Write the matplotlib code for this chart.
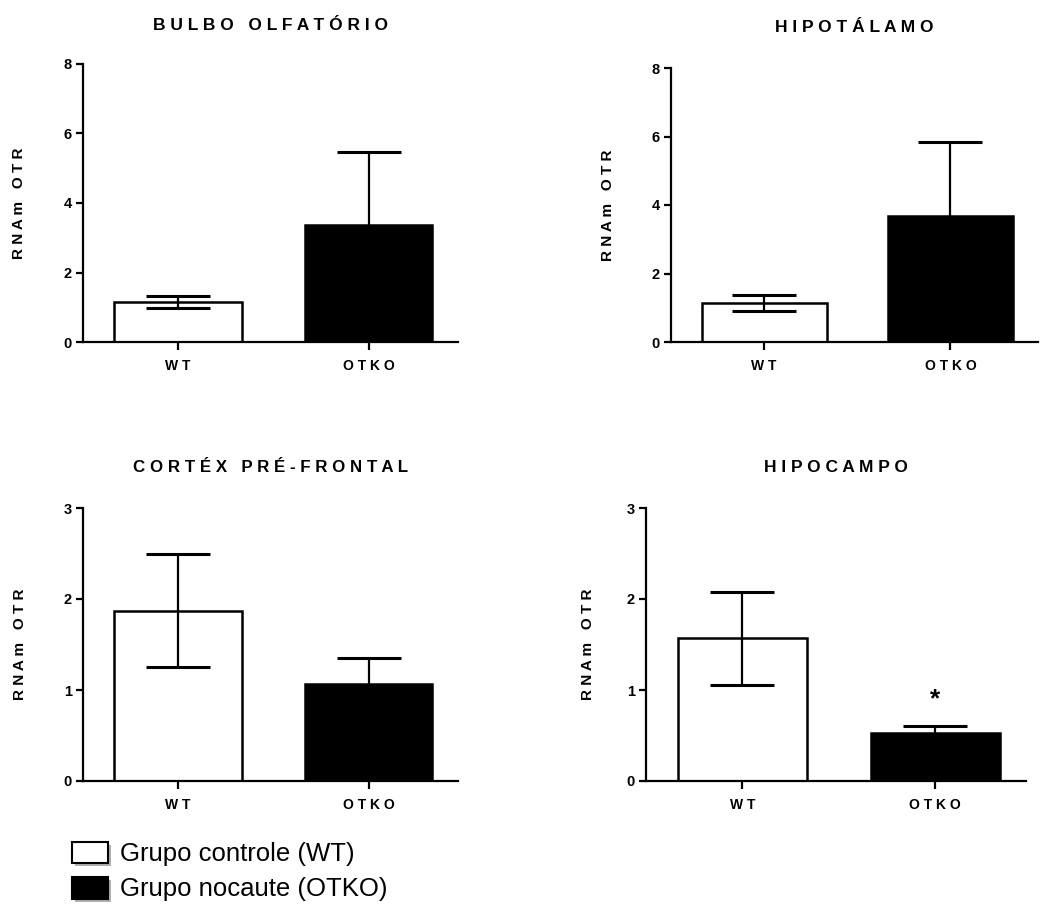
import matplotlib
matplotlib.use("Agg")
import matplotlib.pyplot as plt
from matplotlib.patches import Rectangle

plt.rcParams['font.family'] = ['Liberation Sans', 'DejaVu Sans']

categories = ["WT", "OTKO"]
titles = ["BULBO OLFATÓRIO", "HIPOTÁLAMO", "CORTÉX PRÉ-FRONTAL", "HIPOCAMPO"]
means = [[1.15, 3.37], [1.13, 3.68], [1.87, 1.07], [1.57, 0.53]]
errors = [[0.17, 2.10], [0.23, 2.15], [0.62, 0.28], [0.51, 0.07]]
ymax = [8, 8, 3, 3]
yticks = [[0, 2, 4, 6, 8], [0, 2, 4, 6, 8], [0, 1, 2, 3], [0, 1, 2, 3]]
significance = [[None, None], [None, None], [None, None], [None, "*"]]
legend_labels = ["Grupo controle (WT)", "Grupo nocaute (OTKO)"]
ylabel = "RNAm OTR"

W, H = 1040, 907
fig = plt.figure(figsize=(W / 100, H / 100), dpi=100)

# axes boxes in pixels: left, right, top, bottom
boxes = [(83, 458, 64, 342), (671, 1038, 68, 342),
         (83, 458, 508, 781), (646, 1026, 508, 781)]
ylabel_x = [19, 608, 20, 588]
title_y = [25, 28, 468, 468]
title_size = [12.5, 12.5, 12.2, 12.5]


def spaced(s):
    return "   ".join(" ".join(list(w)) for w in s.split(" "))


lw = 1.6
for i in range(4):
    l, r, t, b = boxes[i]
    ax = fig.add_axes([l / W, 1 - b / H, (r - l) / W, (b - t) / H])
    x = [0, 1]
    ax.bar(x, means[i], width=0.67, color=["white", "black"],
           edgecolor="black", linewidth=lw + 0.2, zorder=2)
    ax.errorbar(x, means[i], yerr=errors[i], fmt="none", ecolor="black",
                elinewidth=lw, capsize=23, capthick=2.2, zorder=3)
    for j in range(2):
        if significance[i][j]:
            ax.text(x[j], means[i][j] + errors[i][j] + 0.3 * ymax[i] / 3,
                    significance[i][j], ha="center", va="center",
                    fontsize=19, fontweight="bold")
    ax.set_xlim(-0.5, 1.47)
    ax.set_ylim(0, ymax[i])
    ax.set_yticks(yticks[i])
    ax.set_yticklabels([str(v) for v in yticks[i]], fontsize=10.5,
                       fontweight="bold")
    ax.set_xticks(x)
    ax.set_xticklabels([spaced(c) for c in categories], fontsize=10,
                       fontweight="bold")
    for s in ["top", "right"]:
        ax.spines[s].set_visible(False)
    for s in ["left", "bottom"]:
        ax.spines[s].set_linewidth(lw)
    ax.tick_params(axis="y", direction="out", length=5, width=lw, pad=3)
    ax.tick_params(axis="x", direction="out", length=6, width=lw, pad=6)
    fig.text(ylabel_x[i] / W, 1 - ((t + b) / 2) / H, spaced(ylabel),
             rotation=90, ha="center", va="center", fontsize=11,
             fontweight="bold")
    fig.text(((l + r) / 2) / W, 1 - title_y[i] / H, spaced(titles[i]),
             ha="center", va="center", fontsize=title_size[i],
             fontweight="bold")

# legend
leg_rows = [(842, 863), (877, 899)]
for k, (y0, y1) in enumerate(leg_rows):
    x0, x1 = 72, 108
    fig.patches.append(Rectangle(((x0 + 3) / W, 1 - (y1 + 3) / H),
                                 (x1 - x0) / W, (y1 - y0) / H,
                                 transform=fig.transFigure, facecolor="#b0b0b0",
                                 edgecolor="none"))
    fig.patches.append(Rectangle((x0 / W, 1 - y1 / H), (x1 - x0) / W,
                                 (y1 - y0) / H, transform=fig.transFigure,
                                 facecolor="white" if k == 0 else "black",
                                 edgecolor="black", linewidth=1.5))
    fig.text(120 / W, 1 - ((y0 + y1) / 2 + 1) / H, legend_labels[k],
             ha="left", va="center", fontsize=18.5)

fig.savefig("out.png", dpi=100)
